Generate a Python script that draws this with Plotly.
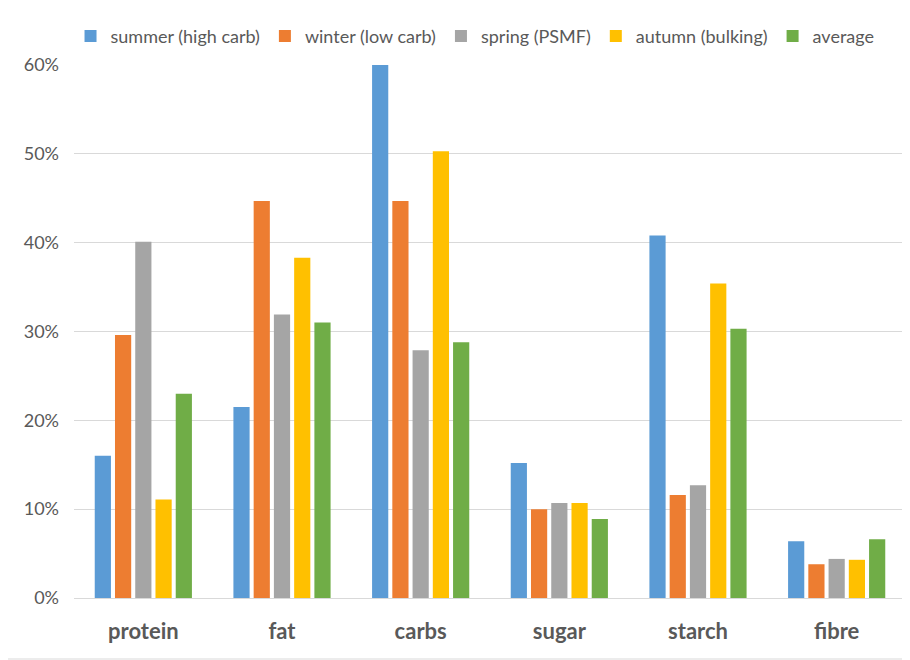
import plotly.graph_objects as go

categories = ["protein", "fat", "carbs", "sugar", "starch", "fibre"]
series_names = ["summer (high carb)", "winter (low carb)", "spring (PSMF)", "autumn (bulking)", "average"]
summer = [0.160, 0.215, 0.600, 0.152, 0.408, 0.064]
winter = [0.296, 0.447, 0.447, 0.100, 0.116, 0.038]
spring = [0.401, 0.319, 0.279, 0.107, 0.127, 0.044]
autumn = [0.111, 0.383, 0.503, 0.107, 0.354, 0.043]
average = [0.230, 0.310, 0.288, 0.089, 0.303, 0.066]
colors = ["#5B9BD5", "#ED7D31", "#A5A5A5", "#FFC000", "#70AD47"]
y_ticks = [0, 0.1, 0.2, 0.3, 0.4, 0.5, 0.6]
y_tick_labels = ["0%", "10%", "20%", "30%", "40%", "50%", "60%"]

fig = go.Figure()
for name, vals, col in zip(series_names, [summer, winter, spring, autumn, average], colors):
    fig.add_trace(go.Bar(name=name, x=categories, y=vals, marker_color=col, marker_line_width=0))

fig.update_layout(
    width=902, height=652,
    barmode="group", bargap=0.27, bargroupgap=0.2,
    paper_bgcolor="white", plot_bgcolor="white",
    font=dict(family="Lato", color="#595959", size=17),
    margin=dict(l=66, r=4, t=57, b=62),
    legend=dict(orientation="h", x=0.482, xanchor="center", y=1.054, yanchor="middle",
                font=dict(size=18, color="#595959"), traceorder="normal", itemwidth=30),
    xaxis=dict(showline=True, linecolor="#D9D9D9", linewidth=1, ticks="",
               ticklabelstandoff=14,
               tickfont=dict(size=22, color="#595959", weight="bold")),
    yaxis=dict(range=[0, 0.6], tickvals=y_ticks, ticktext=y_tick_labels, showgrid=True,
               gridcolor="#D9D9D9", gridwidth=1, zeroline=False, ticks="",
               ticklabelstandoff=14,
               tickfont=dict(size=18, color="#595959")),
    shapes=[
        dict(type="line", xref="paper", yref="paper", x0=1+3/832, x1=1+3/832,
             y0=-61/533, y1=1+57/533, line=dict(color="#D9D9D9", width=1)),
        dict(type="line", xref="paper", yref="paper", x0=-66/832, x1=1+3/832,
             y0=-61/533, y1=-61/533, line=dict(color="#D9D9D9", width=1)),
    ],
)
fig.write_html("out.html")
